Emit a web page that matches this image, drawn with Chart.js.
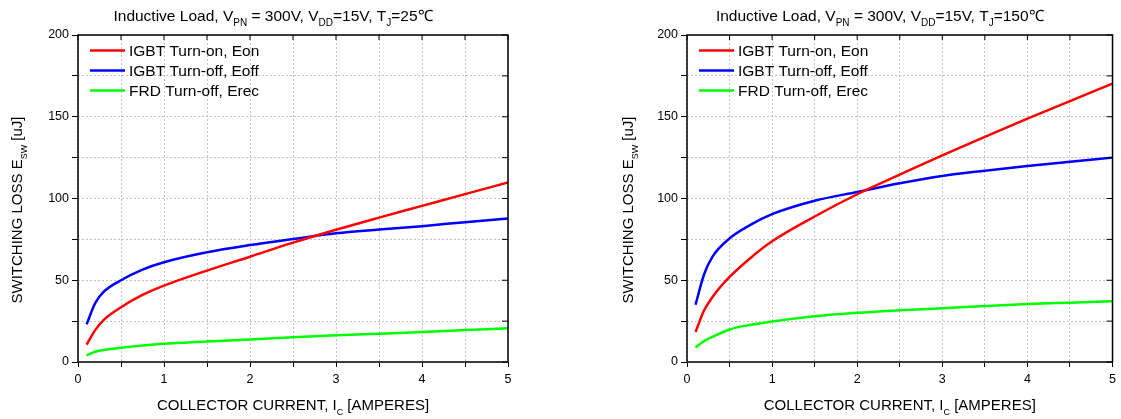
<!DOCTYPE html>
<html>
<head>
<meta charset="utf-8">
<script src="https://cdn.jsdelivr.net/npm/chart.js@4"></script>
<style>
  body { margin: 0; background: #fff; }
  .box { position: absolute; top: 0; height: 419px; }
</style>
</head>
<body>
<div class="box" style="left:0;width:560px"><canvas id="c25" width="560" height="419"></canvas></div>
<div class="box" style="left:560px;width:561px"><canvas id="c150" width="561" height="419"></canvas></div>
<script>
// collector current [A]
const current = [0.1, 0.2, 0.3, 0.5, 0.75, 1, 1.5, 2, 2.5, 3, 3.5, 4, 4.5, 5];

// Tj = 25C, switching loss [uJ]
const eon25 = [10.6, 19.5, 25.8, 33.5, 41, 46.7, 55.9, 64.4, 73, 80.9, 88.3, 95.5, 102.7, 109.8];
const eoff25 = [23, 36, 43, 50, 56.5, 61, 67.1, 71.5, 75.2, 78.7, 81, 83.1, 85.5, 87.8];
const erec25 = [4.1, 6.3, 7.3, 8.7, 10.1, 11.2, 12.5, 13.8, 15.1, 16.3, 17.3, 18.3, 19.5, 20.7];

// Tj = 150C
const eon150 = [18.3, 31.5, 39.8, 52, 63.8, 73.8, 89, 102.6, 114.6, 126.4, 137.7, 148.8, 159.5, 170.3];
const eoff150 = [35, 53.5, 64.5, 75.6, 84, 90.4, 98.6, 104, 109.3, 113.8, 117, 119.9, 122.5, 125];
const erec150 = [8.9, 12.8, 15.4, 19.9, 22.8, 24.8, 28, 30.1, 31.6, 32.9, 34.2, 35.4, 36.3, 37.2];

const seriesNames = ['IGBT Turn-on, Eon', 'IGBT Turn-off, Eoff', 'FRD Turn-off, Erec'];
const seriesColors = ['#ff0000', '#0000ff', '#00ff00'];

const xTicks = [0, 1, 2, 3, 4, 5];
const yTicks = [0, 50, 100, 150, 200];

const FONT = '"Liberation Sans", Arial, sans-serif';

// draw a line of text where some pieces are subscripts
function drawRich(ctx, parts, x, y, size, align) {
  const subSize = Math.round(size * 0.62);
  let total = 0;
  parts.forEach(p => {
    ctx.font = (p.sub ? subSize : size) + 'px ' + FONT;
    p.w = ctx.measureText(p.t).width;
    total += p.w;
  });
  let cx = align === 'center' ? x - total / 2 : x;
  ctx.textAlign = 'left';
  ctx.textBaseline = 'alphabetic';
  ctx.fillStyle = '#000';
  parts.forEach(p => {
    ctx.font = (p.sub ? subSize : size) + 'px ' + FONT;
    ctx.fillText(p.t, cx, p.sub ? y + size * 0.3 : y);
    cx += p.w;
  });
}

const decorPlugin = {
  id: 'decor',
  afterDraw(chart, args, opts) {
    const ctx = chart.ctx;
    const a = chart.chartArea;
    const xs = chart.scales.x, ys = chart.scales.y;
    ctx.save();
    // frame
    ctx.strokeStyle = '#000';
    ctx.lineWidth = 1.5;
    ctx.strokeRect(a.left, a.top, a.right - a.left, a.bottom - a.top);
    // inward ticks on top and right
    ctx.lineWidth = 1;
    ctx.beginPath();
    for (let v = 0; v <= 5; v += 0.5) {
      const px = xs.getPixelForValue(v);
      ctx.moveTo(px, a.top);
      ctx.lineTo(px, a.top + 5);
    }
    for (let v = 0; v <= 200; v += 25) {
      const py = ys.getPixelForValue(v);
      ctx.moveTo(a.right, py);
      ctx.lineTo(a.right - 6, py);
    }
    ctx.stroke();

    // title
    const midX = (a.left + a.right) / 2;
    drawRich(ctx, [
      {t: 'Inductive Load, V'}, {t: 'PN', sub: true}, {t: ' = 300V, V'}, {t: 'DD', sub: true},
      {t: '=15V, T'}, {t: 'J', sub: true}, {t: '=' + opts.temp + '\u2103'}
    ], midX - 20, 21, 15.5, 'center');

    // x axis title
    drawRich(ctx, [{t: 'COLLECTOR CURRENT, I'}, {t: 'C', sub: true}, {t: ' [AMPERES]'}],
      midX, 410, 15, 'center');

    // y axis title
    ctx.save();
    ctx.translate(opts.yTitleX, 210);
    ctx.rotate(-Math.PI / 2);
    drawRich(ctx, [{t: 'SWITCHING LOSS E'}, {t: 'SW', sub: true}, {t: ' [uJ]'}], 0, 0, 15, 'center');
    ctx.restore();

    // legend
    chart.data.datasets.forEach((ds, i) => {
      const y = a.top + 15.5 + i * 20;
      ctx.strokeStyle = ds.borderColor;
      ctx.lineWidth = 2.5;
      ctx.beginPath();
      ctx.moveTo(a.left + 12, y);
      ctx.lineTo(a.left + 47, y);
      ctx.stroke();
      ctx.fillStyle = '#000';
      ctx.font = '15.5px ' + FONT;
      ctx.textAlign = 'left';
      ctx.textBaseline = 'middle';
      ctx.fillText(ds.label, a.left + 51, y + 1);
    });
    ctx.restore();
  }
};

function makeChart(id, temp, eon, eoff, erec, plotLeft, rightPad, yTitleX) {
  const series = [eon, eoff, erec];
  return new Chart(document.getElementById(id), {
    type: 'line',
    data: {
      datasets: series.map((vals, i) => ({
        label: seriesNames[i],
        data: current.map((x, j) => ({x: x, y: vals[j]})),
        borderColor: seriesColors[i],
        backgroundColor: seriesColors[i],
        borderWidth: 2.5,
        pointRadius: 0,
        cubicInterpolationMode: 'monotone',
        fill: false
      }))
    },
    options: {
      responsive: false,
      animation: false,
      devicePixelRatio: 1,
      layout: { padding: { left: 0, right: rightPad, top: 35, bottom: 0 } },
      plugins: {
        legend: { display: false },
        tooltip: { enabled: false },
        title: { display: false },
        decor: { temp: temp, yTitleX: yTitleX }
      },
      scales: {
        x: {
          type: 'linear',
          min: 0, max: 5,
          afterFit: s => { s.height = 57; },
          grid: { color: '#c4c4c4', tickColor: '#000', tickLength: 5, lineWidth: 1 },
          border: { display: false, dash: [2, 2] },
          ticks: {
            stepSize: 0.5,
            padding: 5,
            color: '#000',
            font: { size: 12.5, family: FONT },
            maxRotation: 0,
            autoSkip: false,
            callback: v => xTicks.includes(v) ? String(v) : ''
          }
        },
        y: {
          min: 0, max: 200,
          afterFit: s => { s.width = plotLeft; },
          grid: { color: '#c4c4c4', tickColor: '#000', tickLength: 6, lineWidth: 1 },
          border: { display: false, dash: [2, 2] },
          ticks: {
            stepSize: 25,
            padding: 3,
            color: '#000',
            font: { size: 12.5, family: FONT },
            autoSkip: false,
            callback: v => yTicks.includes(v) ? String(v) : ''
          }
        }
      }
    },
    plugins: [decorPlugin]
  });
}

makeChart('c25', '25', eon25, eoff25, erec25, 78, 52, 22);
makeChart('c150', '150', eon150, eoff150, erec150, 127, 5, 73);
</script>
</body>
</html>
